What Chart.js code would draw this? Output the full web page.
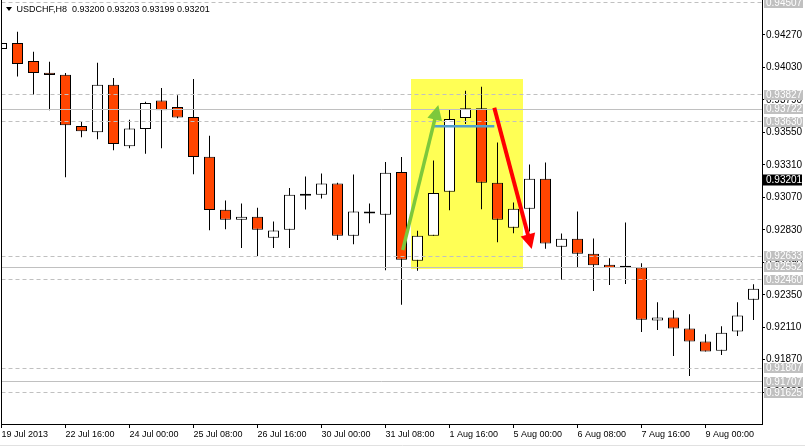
<!DOCTYPE html>
<html><head><meta charset="utf-8">
<script src="https://cdn.jsdelivr.net/npm/chart.js@4.4.0/dist/chart.umd.min.js"></script>
<style>html,body{margin:0;padding:0;background:#fff;overflow:hidden}#wrap{width:805px;height:447px;position:relative}canvas{display:block}</style>
</head><body><div id="wrap"><canvas id="c" width="805" height="447"></canvas></div>
<script>
// ---------- data ----------
const chartTitle = "USDCHF,H8  0.93200 0.93203 0.93199 0.93201";
const opens  = [0.94167,0.94210,0.94078,0.93991,0.93977,0.93598,0.93551,0.93903,0.93447,0.93576,0.93785,0.93738,0.93664,0.93371,0.92978,0.92904,0.92926,0.92771,0.92830,0.93081,0.93089,0.93172,0.92786,0.92965,0.92941,0.93258,0.92602,0.92786,0.93111,0.93657,0.93728,0.93177,0.92845,0.92985,0.93207,0.92705,0.92764,0.92653,0.92572,0.92550,0.92552,0.92159,0.92181,0.92100,0.92004,0.91937,0.92078,0.92314];
const highs  = [0.94240,0.94294,0.94146,0.94072,0.93989,0.93630,0.94065,0.93952,0.93644,0.93777,0.93878,0.93824,0.93945,0.93526,0.93047,0.93025,0.92993,0.92892,0.93140,0.93224,0.93246,0.93177,0.93239,0.93025,0.93332,0.93369,0.92823,0.93342,0.93718,0.93858,0.93888,0.93475,0.93032,0.93312,0.93327,0.92803,0.92965,0.92766,0.92619,0.92884,0.92582,0.92294,0.92235,0.92205,0.92058,0.92117,0.92294,0.92427];
const lows   = [0.94130,0.93964,0.93829,0.93713,0.93219,0.93514,0.93499,0.93418,0.93433,0.93393,0.93433,0.93655,0.93241,0.92827,0.92835,0.92695,0.92636,0.92695,0.92695,0.92980,0.93061,0.92754,0.92724,0.92879,0.92532,0.92277,0.92528,0.92786,0.92975,0.93613,0.92982,0.92739,0.92805,0.92818,0.92690,0.92459,0.92547,0.92377,0.92422,0.92429,0.92075,0.92089,0.91898,0.91750,0.91930,0.91905,0.92045,0.92163];
const closes = [0.94211,0.94055,0.93989,0.93974,0.93602,0.93558,0.93903,0.93465,0.93578,0.93768,0.93713,0.93661,0.93369,0.92977,0.92904,0.92926,0.92830,0.92825,0.93089,0.93096,0.93172,0.92786,0.92965,0.92951,0.93251,0.92609,0.92786,0.93103,0.93650,0.93728,0.93177,0.92904,0.92985,0.93207,0.92729,0.92764,0.92653,0.92569,0.92547,0.92549,0.92166,0.92181,0.92100,0.92004,0.91930,0.92070,0.92196,0.92395];

const xTickIndex  = [0,4,8,12,16,20,24,28,32,36,40,44];
const xTickLabels = ["19 Jul 2013","22 Jul 16:00","24 Jul 00:00","25 Jul 08:00","26 Jul 16:00","30 Jul 00:00","31 Jul 08:00","1 Aug 16:00","5 Aug 00:00","6 Aug 08:00","7 Aug 16:00","9 Aug 00:00"];
const yTicks = [0.94270,0.94030,0.93790,0.93550,0.93310,0.93070,0.92830,0.92590,0.92350,0.92110,0.91870,0.91630];

const dashedLevels = [0.94507,0.93827,0.93630,0.92633,0.92460,0.91807,0.91625];
const solidLevels  = [0.93722,0.92552,0.91707];
const currentPrice = 0.93201;

const zoneTimes  = [25.6, 32.6];
const zonePrices = [0.93945, 0.92543];
const greenArrowTimes  = [25.08, 27.30];
const greenArrowPrices = [0.92681, 0.93753];
const redArrowTimes    = [30.80, 33.14];
const redArrowPrices   = [0.93733, 0.92688];
const blueLineTimes    = [26.93, 30.80];
const blueLinePrice    = 0.93595;

// ---------- chart ----------
const FONT = "'Liberation Sans', Arial, sans-serif";
Chart.defaults.font.family = FONT;

const bodyData = opens.map((o,i)=>({x:i, y:[Math.min(o,closes[i]), Math.max(o,closes[i])]}));
const wickData = highs.map((h,i)=>({x:i, y:[lows[i], h]}));
const bodyColors = opens.map((o,i)=> closes[i] < o ? '#FF4500' : '#FFFFFF');

function arrow(ctx, xa, ya, xb, yb, color, w, headLen, headHalf){
  const dx = xb-xa, dy = yb-ya, L = Math.hypot(dx,dy), ux = dx/L, uy = dy/L;
  const bx = xb - ux*headLen, by = yb - uy*headLen;
  ctx.strokeStyle = color; ctx.lineWidth = w; ctx.lineCap = 'butt';
  ctx.beginPath(); ctx.moveTo(xa,ya); ctx.lineTo(bx+ux*2, by+uy*2); ctx.stroke();
  ctx.fillStyle = color;
  ctx.beginPath(); ctx.moveTo(xb,yb);
  ctx.lineTo(bx - uy*headHalf, by + ux*headHalf);
  ctx.lineTo(bx + uy*headHalf, by - ux*headHalf);
  ctx.closePath(); ctx.fill();
}

function noPad(s){ s.paddingTop = 0; s.paddingBottom = 0; s.paddingLeft = 0; s.paddingRight = 0; }

const overlay = {
  id:'overlay',
  beforeDatasetsDraw(chart){
    const {ctx, chartArea:a, scales:{x,y}} = chart;
    ctx.save();
    ctx.beginPath(); ctx.rect(a.left,a.top,a.right-a.left,a.bottom-a.top); ctx.clip();
    const x0 = Math.round(x.getPixelForValue(zoneTimes[0])), x1 = Math.round(x.getPixelForValue(zoneTimes[1]));
    const y0 = Math.round(y.getPixelForValue(zonePrices[0])), y1 = Math.round(y.getPixelForValue(zonePrices[1]));
    ctx.fillStyle = 'rgb(255,255,85)';
    ctx.fillRect(x0, y0, x1-x0, y1-y0);
    ctx.restore();
  },
  afterDatasetsDraw(chart){
    const {ctx, chartArea:a, scales:{x,y}} = chart;
    ctx.save();
    ctx.beginPath(); ctx.rect(a.left,a.top,a.right-a.left,a.bottom-a.top); ctx.clip();
    ctx.strokeStyle = 'rgb(192,192,192)'; ctx.lineWidth = 1;
    ctx.setLineDash([4,3]);
    dashedLevels.forEach(p=>{
      const py = Math.floor(y.getPixelForValue(p))+0.5;
      ctx.beginPath(); ctx.moveTo(a.left,py); ctx.lineTo(a.right,py); ctx.stroke();
    });
    ctx.setLineDash([]);
    solidLevels.forEach(p=>{
      const py = Math.floor(y.getPixelForValue(p))+0.5;
      ctx.beginPath(); ctx.moveTo(a.left,py); ctx.lineTo(a.right,py); ctx.stroke();
    });
    ctx.strokeStyle = 'rgb(80,160,205)'; ctx.lineWidth = 2.5;
    const by = y.getPixelForValue(blueLinePrice);
    ctx.beginPath(); ctx.moveTo(x.getPixelForValue(blueLineTimes[0]), by); ctx.lineTo(x.getPixelForValue(blueLineTimes[1]), by); ctx.stroke();
    arrow(ctx, x.getPixelForValue(greenArrowTimes[0]), y.getPixelForValue(greenArrowPrices[0]),
               x.getPixelForValue(greenArrowTimes[1]), y.getPixelForValue(greenArrowPrices[1]),
               'rgb(125,200,60)', 3.5, 15, 7.5);
    arrow(ctx, x.getPixelForValue(redArrowTimes[0]), y.getPixelForValue(redArrowPrices[0]),
               x.getPixelForValue(redArrowTimes[1]), y.getPixelForValue(redArrowPrices[1]),
               'rgb(255,0,0)', 4, 15, 7.5);
    ctx.restore();
  },
  afterDraw(chart){
    const {ctx, chartArea:a, scales:{y}} = chart;
    ctx.save();
    ctx.strokeStyle = '#000'; ctx.lineWidth = 1;
    ctx.beginPath(); ctx.moveTo(1.5, 0); ctx.lineTo(1.5, a.bottom+0.5); ctx.stroke();
    ctx.strokeStyle = 'rgb(225,225,225)';
    ctx.beginPath(); ctx.moveTo(0, 445.5); ctx.lineTo(805, 445.5); ctx.stroke();
    ctx.fillStyle = '#000';
    ctx.beginPath(); ctx.moveTo(6,7); ctx.lineTo(12,7); ctx.lineTo(9,11); ctx.closePath(); ctx.fill();
    ctx.font = "9px " + FONT; ctx.textBaseline = 'alphabetic'; ctx.textAlign = 'left';
    ctx.fillText(chartTitle, 16.5, 12);
    ctx.font = "10px " + FONT; ctx.textBaseline = 'middle';
    // price labels of the horizontal levels; the top one of a tight pair is lifted a little, as in the terminal
    const levels = dashedLevels.concat(solidLevels).slice().sort((p,q)=>q-p);
    let prevBottom = -Infinity;
    levels.forEach(p=>{
      let py = Math.round(y.getPixelForValue(p));
      ctx.fillStyle = 'rgb(192,192,192)';
      ctx.fillRect(764, py-5, 39, 10);
      ctx.fillStyle = '#fff';
      ctx.fillText(p.toFixed(5), 766, py+0.5);
      prevBottom = py+5;
    });
    const cy = Math.round(y.getPixelForValue(currentPrice));
    ctx.fillStyle = '#000';
    ctx.fillRect(763, cy-5.5, 39, 11);
    ctx.fillStyle = '#fff';
    ctx.fillText(currentPrice.toFixed(5), 766, cy+0.5);
    ctx.restore();
  }
};

new Chart(document.getElementById('c').getContext('2d'), {
  type:'bar',
  data:{datasets:[
    {label:'body', data:bodyData, backgroundColor:bodyColors, borderColor:'#000', borderWidth:1, borderSkipped:false,
     barThickness:11, grouped:false, inflateAmount:0, minBarLength:2},
    {label:'wick', data:wickData, backgroundColor:'#000', borderWidth:0, barThickness:1, grouped:false, inflateAmount:0}
  ]},
  options:{
    responsive:false, animation:false, devicePixelRatio:1,
    layout:{padding:{left:1.5, top:0, right:0, bottom:0}, autoPadding:false},
    plugins:{legend:{display:false}, tooltip:{enabled:false}, title:{display:false}},
    scales:{
      x:{type:'linear', position:'bottom', min:0, max:47.53125, offset:false,
         grid:{display:true, offset:false, drawOnChartArea:false, drawTicks:true, tickLength:4, color:'#000', tickColor:'#000', tickWidth:1},
         border:{display:true, color:'#000', width:1},
         ticks:{align:'start', padding:1, color:'#000', font:{family:FONT, size:9}, maxRotation:0, minRotation:0, autoSkip:false,
                callback:(v,i)=> xTickLabels[i] ?? ''},
         afterBuildTicks:s=>{ s.ticks = xTickIndex.map(v=>({value:v})); },
         afterFit:s=>{ s.height = 23; noPad(s); }
      },
      y:{type:'linear', position:'right', min:0.913947, max:0.945287,
         grid:{display:true, drawOnChartArea:false, drawTicks:true, tickLength:3, color:'#000', tickColor:'#000', tickWidth:1},
         border:{display:true, color:'#000', width:1},
         ticks:{padding:1, color:'#000', font:{family:FONT, size:10}, autoSkip:false,
                callback:(v)=> Number(v).toFixed(5)},
         afterBuildTicks:s=>{ s.ticks = yTicks.map(v=>({value:v})); },
         afterFit:s=>{ s.width = 43; noPad(s); }
      }
    }
  },
  plugins:[overlay]
});
</script>
</body></html>
